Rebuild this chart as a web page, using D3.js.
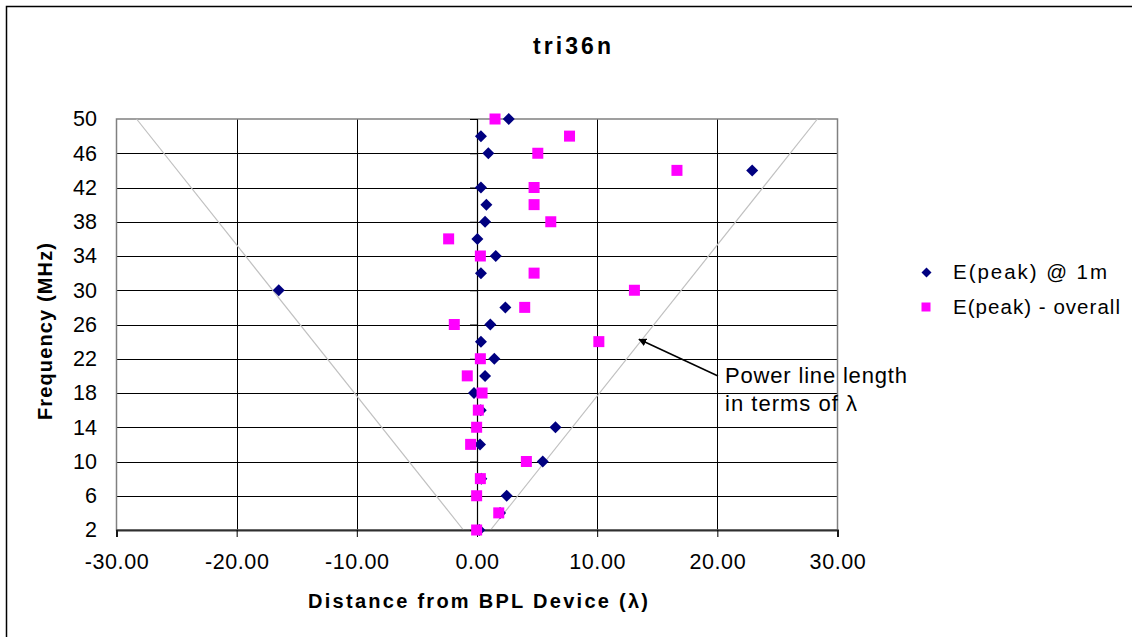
<!DOCTYPE html>
<html>
<head>
<meta charset="utf-8">
<script src="https://cdn.jsdelivr.net/npm/d3@7"></script>
<style>
  html, body { margin: 0; padding: 0; background: #fff; }
  svg { display: block; }
  text { font-family: Arial, "Liberation Sans", sans-serif; fill: #000; }
</style>
</head>
<body>
<svg id="chart" width="1132" height="637"></svg>
<script>
// ---- data ----
const title = "tri36n";
const frequencies = [2, 4, 6, 8, 10, 12, 14, 16, 18, 20, 22, 24, 26, 28, 30, 32, 34, 36, 38, 40, 42, 44, 46, 48, 50];
const peakAt1m = [0.2, 1.92, 2.47, 0.36, 5.47, 0.25, 6.53, 0.31, -0.25, 0.67, 1.44, 0.33, 1.11, 2.36, -16.5, 0.33, 1.56, 0.03, 0.67, 0.78, 0.33, 22.9, 0.94, 0.33, 2.64];
const peakOverall = [-0.03, 1.81, -0.03, 0.28, 4.11, -0.53, -0.03, 0.11, 0.42, -0.81, 0.28, 10.14, -1.89, 3.97, 13.1, 4.75, 0.28, -2.36, 6.14, 4.75, 4.75, 16.64, 5.06, 7.7, 1.5];
const lineFreq = [2, 50];
const lineLength = [1.13, 28.33];
const xTicks = [-30, -20, -10, 0, 10, 20, 30];
const yTicks = [2, 6, 10, 14, 18, 22, 26, 30, 34, 38, 42, 46, 50];
const seriesNames = ["E(peak) @ 1m", "E(peak) - overall"];
const xTitle = "Distance from BPL Device (λ)";
const yTitle = "Frequency (MHz)";
const noteLines = ["Power line length", "in terms of λ"];

// ---- layout ----
const svg = d3.select("#chart");
const x = d3.scaleLinear().domain([-30, 30]).range([116.5, 837.5]);
const y = d3.scaleLinear().domain([2, 50]).range([530, 119]);
const FONT = 'Arial, "Liberation Sans", sans-serif';

// outer frame
svg.append("rect").attr("x", 6.5).attr("y", 6.5).attr("width", 1140).attr("height", 650)
  .attr("fill", "#fff").attr("stroke", "#000").attr("stroke-width", 1.5);

// title
svg.append("text").attr("x", 572).attr("y", 54).attr("text-anchor", "middle")
  .attr("font-size", 23).attr("font-weight", "bold")
  .attr("textLength", 78).attr("lengthAdjust", "spacing").text(title);

// gridlines
const g = svg.append("g");
g.selectAll(".hg").data(yTicks.filter(d => d > 2 && d < 50)).join("line")
  .attr("x1", x(-30)).attr("x2", x(30))
  .attr("y1", d => Math.round(y(d)) + 0.5).attr("y2", d => Math.round(y(d)) + 0.5)
  .attr("stroke", "#000").attr("stroke-width", 1);
g.selectAll(".vg").data(xTicks.filter(d => d !== 0 && Math.abs(d) < 30)).join("line")
  .attr("x1", d => Math.round(x(d)) + 0.5).attr("x2", d => Math.round(x(d)) + 0.5)
  .attr("y1", y(50)).attr("y2", y(2))
  .attr("stroke", "#000").attr("stroke-width", 1);

// plot border
svg.append("rect").attr("x", x(-30)).attr("y", y(50))
  .attr("width", x(30) - x(-30)).attr("height", y(2) - y(50))
  .attr("fill", "none").attr("stroke", "#808080").attr("stroke-width", 1.5);

// wavelength (power line length) lines
const vLine = d3.line().x(d => x(d[0])).y(d => y(d[1]));
const rightPts = lineFreq.map((f, i) => [lineLength[i], f]);
const leftPts = lineFreq.map((f, i) => [-lineLength[i], f]);
[leftPts, rightPts].forEach(pts => {
  svg.append("path").attr("d", vLine(pts)).attr("fill", "none")
    .attr("stroke", "#c0c0c0").attr("stroke-width", 1.2);
});

// x axis (at f = 2)
const xAxis = svg.append("g").attr("transform", `translate(0,${y(2)})`)
  .call(d3.axisBottom(x).tickValues(xTicks).tickSize(7).tickPadding(17)
    .tickFormat(d => d.toFixed(2)));
xAxis.select(".domain").attr("stroke", "#303030").attr("stroke-width", 2);
xAxis.selectAll(".tick line").attr("stroke", "#000");
xAxis.selectAll("text").attr("font-family", FONT).attr("font-size", 21.5)
  .attr("letter-spacing", 0.6).attr("fill", "#000");

// y axis line + ticks at x = 0
const yAxis = svg.append("g").attr("transform", `translate(${x(0)},0)`)
  .call(d3.axisLeft(y).tickValues(yTicks).tickSize(7).tickFormat(""));
yAxis.select(".domain").attr("stroke", "#000").attr("stroke-width", 1.2);
yAxis.selectAll(".tick line").attr("stroke", "#000");

// y tick labels at left
const yLab = svg.append("g").attr("transform", `translate(104,0)`)
  .call(d3.axisLeft(y).tickValues(yTicks).tickSize(0).tickPadding(7).tickFormat(d3.format("d")));
yLab.select(".domain").remove();
yLab.selectAll("text").attr("font-family", FONT).attr("font-size", 21.5).attr("fill", "#000");

// axis titles
svg.append("text").attr("x", 478).attr("y", 607.5).attr("text-anchor", "middle")
  .attr("font-size", 20).attr("font-weight", "bold")
  .attr("textLength", 340).attr("lengthAdjust", "spacing").text(xTitle);
svg.append("text").attr("transform", "translate(52,331.5) rotate(-90)")
  .attr("text-anchor", "middle").attr("font-size", 20).attr("font-weight", "bold")
  .attr("textLength", 177).attr("lengthAdjust", "spacing").text(yTitle);

// markers
const diamond = d3.symbol().type(d3.symbolDiamond2 || d3.symbolDiamond);
function diamondPath(s) {
  return `M0,${-s}L${s},0L0,${s}L${-s},0Z`;
}
svg.append("g").selectAll("path").data(frequencies.map((f, i) => [peakAt1m[i], f])).join("path")
  .attr("transform", d => `translate(${x(d[0])},${y(d[1])})`)
  .attr("d", diamondPath(6)).attr("fill", "#000080");
svg.append("g").selectAll("rect").data(frequencies.map((f, i) => [peakOverall[i], f])).join("rect")
  .attr("x", d => x(d[0]) - 5.5).attr("y", d => y(d[1]) - 5.5)
  .attr("width", 11).attr("height", 11).attr("fill", "#ff00ff");

// legend
const leg = svg.append("g");
leg.append("path").attr("transform", "translate(926.5,272.5)").attr("d", diamondPath(5)).attr("fill", "#000080");
leg.append("rect").attr("x", 921.5).attr("y", 302.5).attr("width", 9).attr("height", 9).attr("fill", "#ff00ff");
leg.append("text").attr("x", 953).attr("y", 279).attr("font-size", 20.5)
  .attr("textLength", 154).attr("lengthAdjust", "spacing").text(seriesNames[0]);
leg.append("text").attr("x", 953).attr("y", 313.5).attr("font-size", 20.5)
  .attr("textLength", 167).attr("lengthAdjust", "spacing").text(seriesNames[1]);

// annotation with arrow
svg.append("defs").append("marker").attr("id", "ah").attr("viewBox", "0 0 10 10")
  .attr("refX", 9).attr("refY", 5).attr("markerWidth", 8).attr("markerHeight", 8)
  .attr("markerUnits", "userSpaceOnUse").attr("orient", "auto")
  .append("path").attr("d", "M0,0L10,5L0,10Z").attr("fill", "#000");
svg.append("line").attr("x1", 718).attr("y1", 376).attr("x2", 639).attr("y2", 339.3)
  .attr("stroke", "#000").attr("stroke-width", 1.5).attr("marker-end", "url(#ah)");
svg.append("text").attr("x", 725).attr("y", 382.5).attr("font-size", 22)
  .attr("textLength", 182).attr("lengthAdjust", "spacing").text(noteLines[0]);
svg.append("text").attr("x", 725).attr("y", 411).attr("font-size", 22)
  .attr("textLength", 132).attr("lengthAdjust", "spacing").text(noteLines[1]);
</script>
</body>
</html>
